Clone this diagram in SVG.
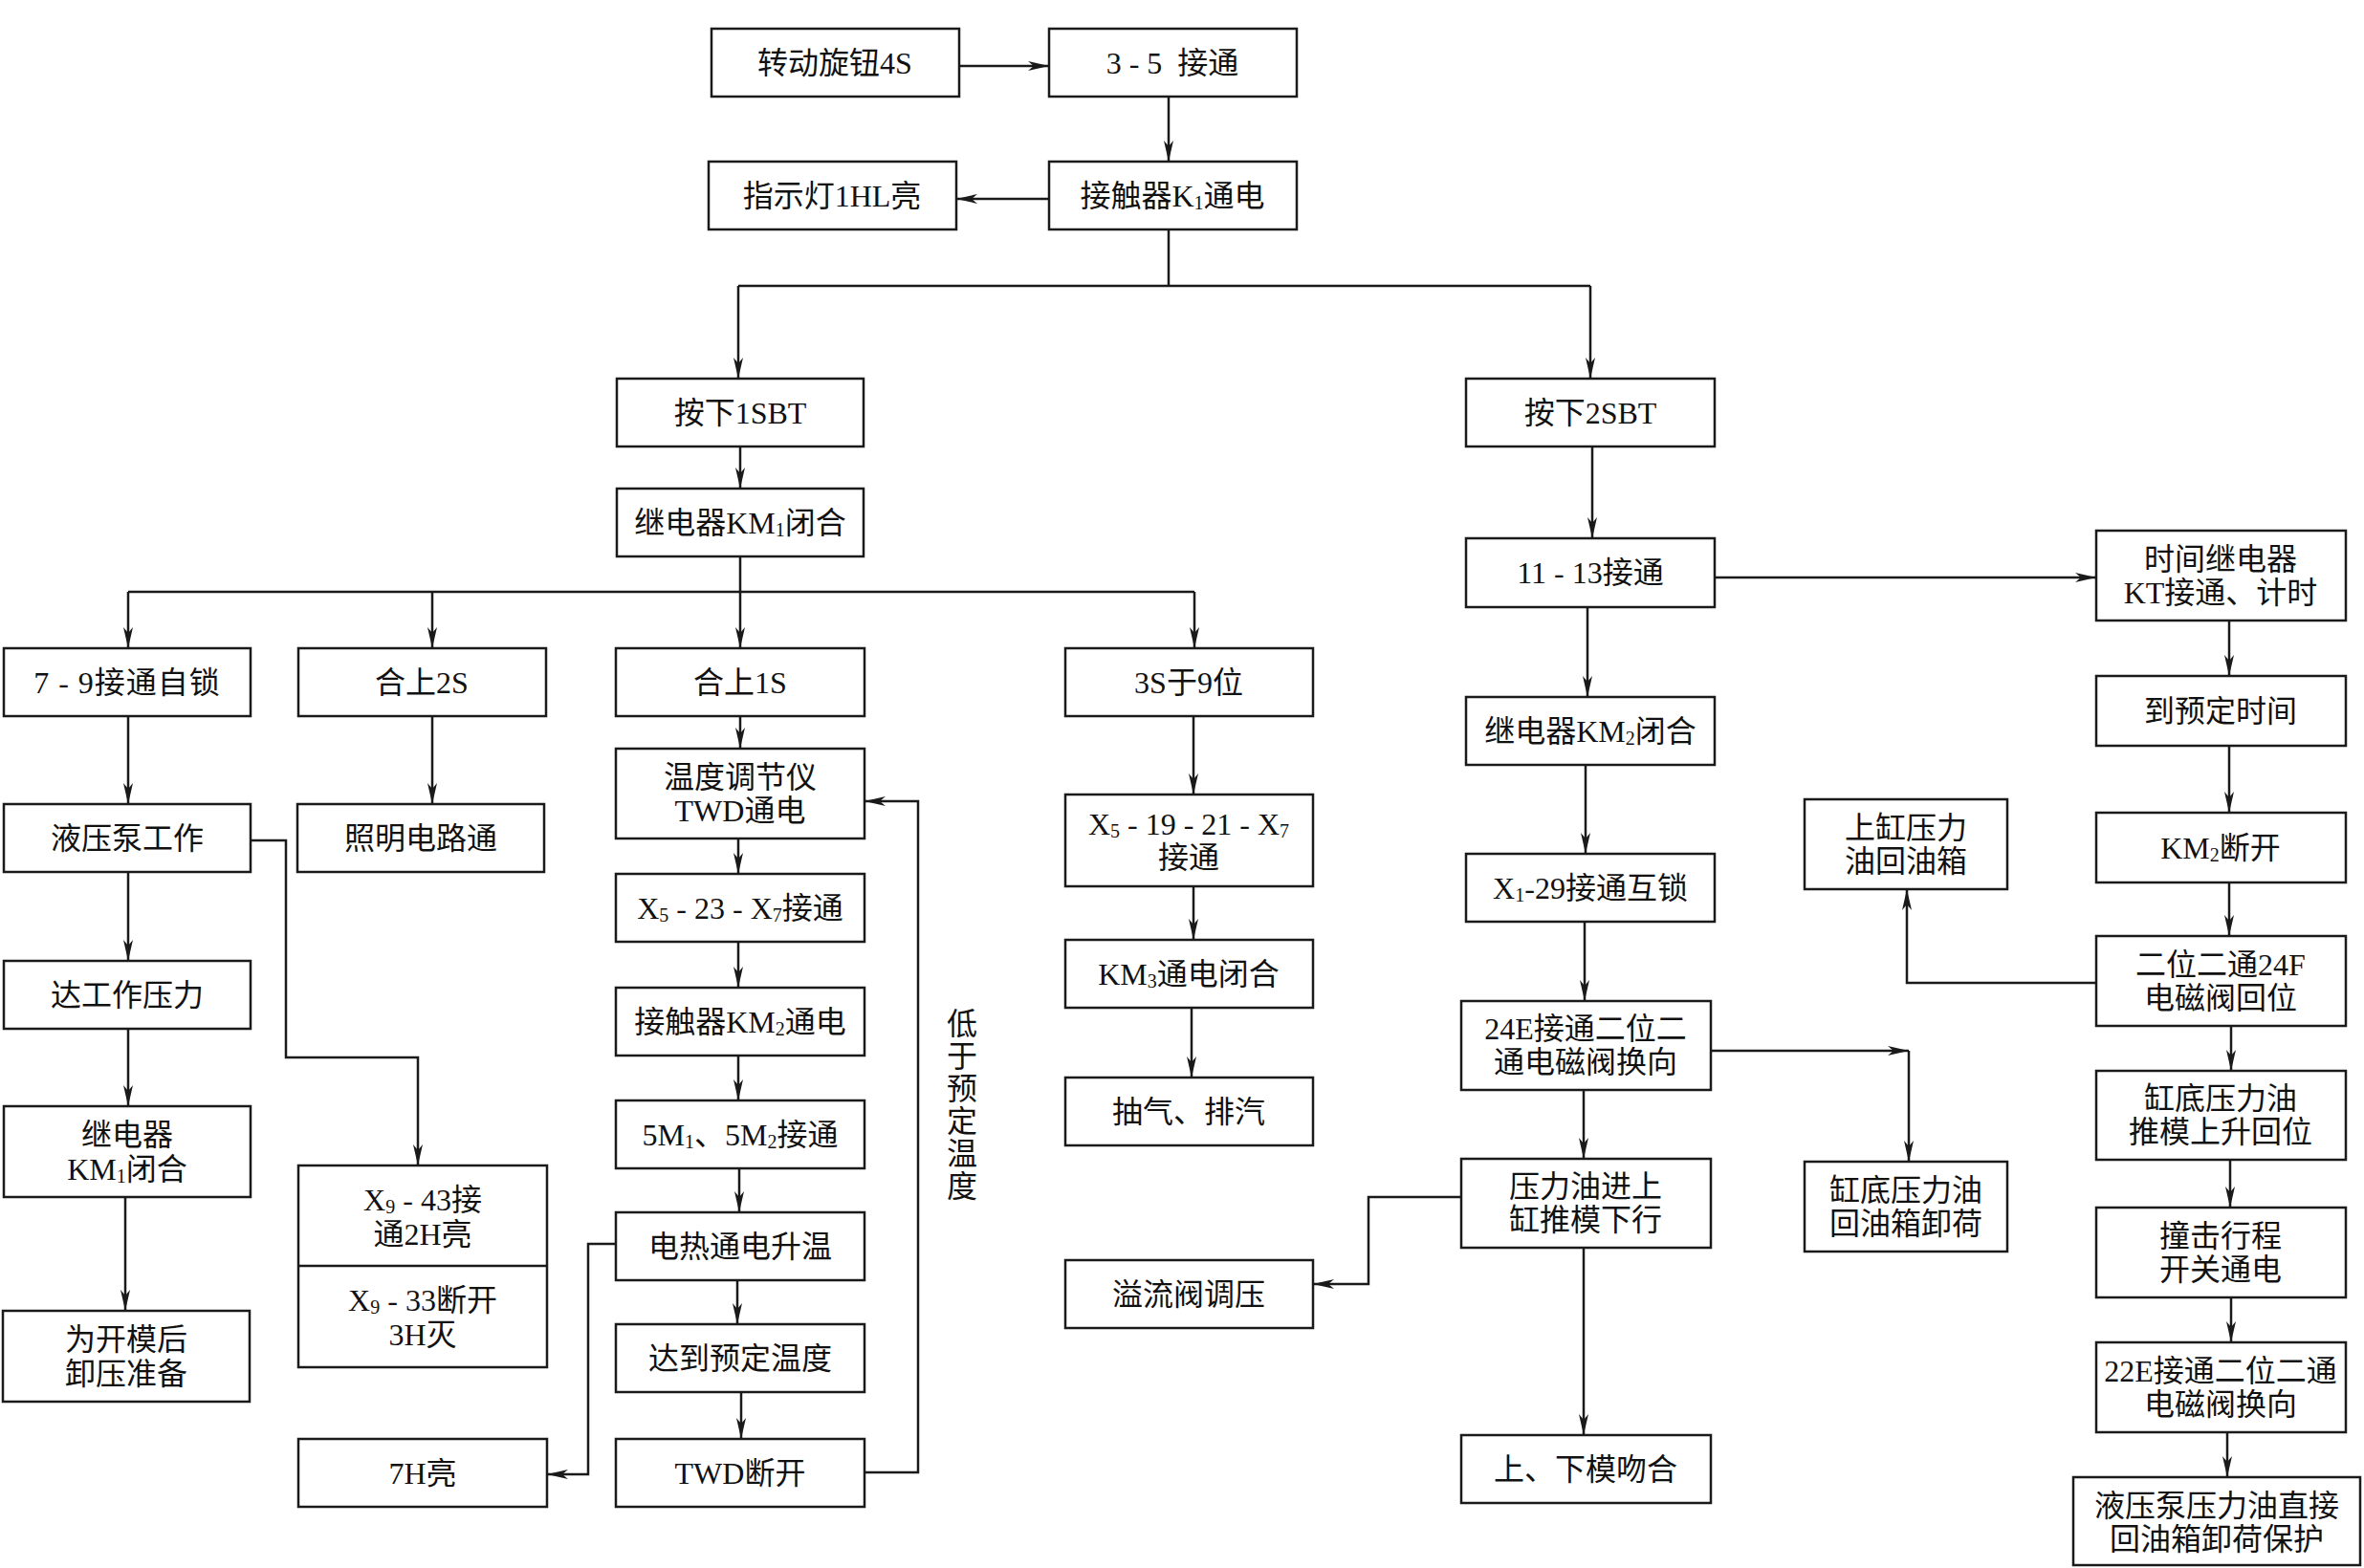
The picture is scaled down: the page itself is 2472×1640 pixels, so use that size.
<svg xmlns="http://www.w3.org/2000/svg" width="2472" height="1640" viewBox="0 0 2472 1640">
<style>
.b{fill:#fff;stroke:#1a1a1a;stroke-width:2.5}
.t{font-family:"Liberation Serif","Noto Sans CJK SC",serif;font-size:32px;text-anchor:middle;dominant-baseline:central;fill:#111}
.s{font-size:20px}
.c{fill:none;stroke:#1a1a1a;stroke-width:2.5}
.a{fill:none;stroke:#1a1a1a;stroke-width:2.5;marker-end:url(#ah)}
</style>
<defs>
<marker id="ah" markerUnits="userSpaceOnUse" markerWidth="22" markerHeight="10" viewBox="0 0 22 10" refX="22" refY="5" orient="auto">
<path d="M0,0 L22,5 L0,10 L6,5 Z" fill="#1a1a1a"/>
</marker>
</defs>
<rect width="2472" height="1640" fill="#fff"/>
<g id="connectors">
<path class="a" d="M1003,69 H1097"/>
<path class="a" d="M1222,101 V169"/>
<path class="a" d="M1097,208 H1000"/>
<path class="c" d="M1222,240 V299 M772,299 H1663"/>
<path class="a" d="M772,299 V396"/>
<path class="a" d="M1663,299 V396"/>
<path class="a" d="M774,467 V511"/>
<path class="c" d="M774,582 V619 M134,619 H1249"/>
<path class="a" d="M134,619 V678"/>
<path class="a" d="M452,619 V678"/>
<path class="a" d="M774,619 V678"/>
<path class="a" d="M1249,619 V678"/>
<path class="a" d="M134,749 V841"/>
<path class="a" d="M134,912 V1005"/>
<path class="a" d="M134,1076 V1157"/>
<path class="a" d="M131,1252 V1371"/>
<path class="a" d="M452,749 V841"/>
<path class="a" d="M262,879 H299 V1106 H437 V1219"/>
<path class="a" d="M774,749 V783"/>
<path class="a" d="M772,877 V914"/>
<path class="a" d="M772,985 V1033"/>
<path class="a" d="M772,1104 V1151"/>
<path class="a" d="M773,1222 V1268"/>
<path class="a" d="M771,1339 V1385"/>
<path class="a" d="M775,1456 V1505"/>
<path class="a" d="M644,1301 H615 V1542 H572"/>
<path class="a" d="M904,1540 H960 V838 H904"/>
<path class="a" d="M1248,749 V831"/>
<path class="a" d="M1248,927 V983"/>
<path class="a" d="M1246,1054 V1127"/>
<path class="a" d="M1528,1252 H1431 V1343 H1373"/>
<path class="a" d="M1665,467 V563"/>
<path class="a" d="M1660,635 V729"/>
<path class="a" d="M1658,800 V893"/>
<path class="a" d="M1657,964 V1047"/>
<path class="a" d="M1656,1140 V1212"/>
<path class="a" d="M1656,1305 V1501"/>
<path class="a" d="M1793,604 H2192"/>
<path class="a" d="M1789,1099 H1996"/>
<path class="a" d="M1996,1099 V1215"/>
<path class="a" d="M2192,1028 H1994 V930"/>
<path class="a" d="M2331,649 V707"/>
<path class="a" d="M2331,780 V850"/>
<path class="a" d="M2331,923 V979"/>
<path class="a" d="M2333,1073 V1120"/>
<path class="a" d="M2332,1213 V1263"/>
<path class="a" d="M2333,1357 V1404"/>
<path class="a" d="M2329,1498 V1545"/>
</g>
<g id="nA"><rect class="b" x="744" y="30" width="259" height="71"/><text class="t" x="873" y="66">转动旋钮4S</text></g>
<g id="nB"><rect class="b" x="1097" y="30" width="259" height="71"/><text class="t" x="1226" y="66">3 - 5&#160;&#160;接通</text></g>
<g id="nC"><rect class="b" x="1097" y="169" width="259" height="71"/><text class="t" x="1226" y="205">接触器K<tspan class="s" dy="7">1</tspan><tspan dy="-7">通电</tspan></text></g>
<g id="nD"><rect class="b" x="741" y="169" width="259" height="71"/><text class="t" x="870" y="205">指示灯1HL亮</text></g>
<g id="nE"><rect class="b" x="645" y="396" width="258" height="71"/><text class="t" x="774" y="432">按下1SBT</text></g>
<g id="nK"><rect class="b" x="1533" y="396" width="260" height="71"/><text class="t" x="1663" y="432">按下2SBT</text></g>
<g id="nF"><rect class="b" x="645" y="511" width="258" height="71"/><text class="t" x="774" y="547">继电器KM<tspan class="s" dy="7">1</tspan><tspan dy="-7">闭合</tspan></text></g>
<g id="nG"><rect class="b" x="4" y="678" width="258" height="71"/><text class="t" x="133" y="714" letter-spacing="1">7 - 9接通自锁</text></g>
<g id="nH"><rect class="b" x="312" y="678" width="259" height="71"/><text class="t" x="441" y="714">合上2S</text></g>
<g id="nI"><rect class="b" x="644" y="678" width="260" height="71"/><text class="t" x="774" y="714">合上1S</text></g>
<g id="nJ"><rect class="b" x="1114" y="678" width="259" height="71"/><text class="t" x="1243" y="714">3S于9位</text></g>
<g id="nG1"><rect class="b" x="4" y="841" width="258" height="71"/><text class="t" x="133" y="877">液压泵工作</text></g>
<g id="nH1"><rect class="b" x="311" y="841" width="258" height="71"/><text class="t" x="440" y="877">照明电路通</text></g>
<g id="nG2"><rect class="b" x="4" y="1005" width="258" height="71"/><text class="t" x="133" y="1041">达工作压力</text></g>
<g id="nG3"><rect class="b" x="4" y="1157" width="258" height="95"/><text class="t" x="133" y="1187">继电器</text><text class="t" x="133" y="1223">KM<tspan class="s" dy="7">1</tspan><tspan dy="-7">闭合</tspan></text></g>
<g id="nG4"><rect class="b" x="3" y="1371" width="258" height="95"/><text class="t" x="132" y="1401">为开模后</text><text class="t" x="132" y="1437">卸压准备</text></g>
<g id="nH2"><rect class="b" x="312" y="1219" width="260" height="211"/><line class="c" x1="312" y1="1324" x2="572" y2="1324"/><text class="t" x="442" y="1255">X<tspan class="s" dy="7">9</tspan><tspan dy="-7"> - 43接</tspan></text><text class="t" x="442" y="1291">通2H亮</text><text class="t" x="442" y="1360">X<tspan class="s" dy="7">9</tspan><tspan dy="-7"> - 33断开</tspan></text><text class="t" x="442" y="1396">3H灭</text></g>
<g id="nH3"><rect class="b" x="312" y="1505" width="260" height="71"/><text class="t" x="442" y="1541">7H亮</text></g>
<g id="nI1"><rect class="b" x="644" y="783" width="260" height="94"/><text class="t" x="774" y="813">温度调节仪</text><text class="t" x="774" y="848">TWD通电</text></g>
<g id="nI2"><rect class="b" x="644" y="914" width="260" height="71"/><text class="t" x="774" y="950">X<tspan class="s" dy="7">5</tspan><tspan dy="-7"> - 23 - X</tspan><tspan class="s" dy="7">7</tspan><tspan dy="-7">接通</tspan></text></g>
<g id="nI3"><rect class="b" x="644" y="1033" width="260" height="71"/><text class="t" x="774" y="1069">接触器KM<tspan class="s" dy="7">2</tspan><tspan dy="-7">通电</tspan></text></g>
<g id="nI4"><rect class="b" x="644" y="1151" width="260" height="71"/><text class="t" x="774" y="1187">5M<tspan class="s" dy="7">1</tspan><tspan dy="-7">、5M</tspan><tspan class="s" dy="7">2</tspan><tspan dy="-7">接通</tspan></text></g>
<g id="nI5"><rect class="b" x="644" y="1268" width="260" height="71"/><text class="t" x="774" y="1304">电热通电升温</text></g>
<g id="nI6"><rect class="b" x="644" y="1385" width="260" height="71"/><text class="t" x="774" y="1421">达到预定温度</text></g>
<g id="nI7"><rect class="b" x="644" y="1505" width="260" height="71"/><text class="t" x="774" y="1541">TWD断开</text></g>
<g id="lbl"><text class="t" x="1006" y="1071">低</text><text class="t" x="1006" y="1105">于</text><text class="t" x="1006" y="1139">预</text><text class="t" x="1006" y="1173">定</text><text class="t" x="1006" y="1207">温</text><text class="t" x="1006" y="1241">度</text></g>
<g id="nJ1"><rect class="b" x="1114" y="831" width="259" height="96"/><text class="t" x="1243" y="862">X<tspan class="s" dy="7">5</tspan><tspan dy="-7"> - 19 - 21 - X</tspan><tspan class="s" dy="7">7</tspan></text><text class="t" x="1243" y="897">接通</text></g>
<g id="nJ2"><rect class="b" x="1114" y="983" width="259" height="71"/><text class="t" x="1243" y="1019">KM<tspan class="s" dy="7">3</tspan><tspan dy="-7">通电闭合</tspan></text></g>
<g id="nJ3"><rect class="b" x="1114" y="1127" width="259" height="71"/><text class="t" x="1243" y="1163">抽气、排汽</text></g>
<g id="nJ4"><rect class="b" x="1114" y="1318" width="259" height="71"/><text class="t" x="1243" y="1354">溢流阀调压</text></g>
<g id="nK1"><rect class="b" x="1533" y="563" width="260" height="72"/><text class="t" x="1663" y="599">11 - 13接通</text></g>
<g id="nK2"><rect class="b" x="1533" y="729" width="260" height="71"/><text class="t" x="1663" y="765">继电器KM<tspan class="s" dy="7">2</tspan><tspan dy="-7">闭合</tspan></text></g>
<g id="nK3"><rect class="b" x="1533" y="893" width="260" height="71"/><text class="t" x="1663" y="929">X<tspan class="s" dy="7">1</tspan><tspan dy="-7">-29接通互锁</tspan></text></g>
<g id="nK4"><rect class="b" x="1528" y="1047" width="261" height="93"/><text class="t" x="1658" y="1076">24E接通二位二</text><text class="t" x="1658" y="1111">通电磁阀换向</text></g>
<g id="nK5"><rect class="b" x="1528" y="1212" width="261" height="93"/><text class="t" x="1658" y="1241">压力油进上</text><text class="t" x="1658" y="1276">缸推模下行</text></g>
<g id="nK6"><rect class="b" x="1528" y="1501" width="261" height="71"/><text class="t" x="1658" y="1537">上、下模吻合</text></g>
<g id="nL"><rect class="b" x="1887" y="836" width="212" height="94"/><text class="t" x="1993" y="866">上缸压力</text><text class="t" x="1993" y="901">油回油箱</text></g>
<g id="nM"><rect class="b" x="1887" y="1215" width="212" height="94"/><text class="t" x="1993" y="1245">缸底压力油</text><text class="t" x="1993" y="1280">回油箱卸荷</text></g>
<g id="nN1"><rect class="b" x="2192" y="555" width="261" height="94"/><text class="t" x="2322" y="585">时间继电器</text><text class="t" x="2322" y="620">KT接通、计时</text></g>
<g id="nN2"><rect class="b" x="2192" y="707" width="261" height="73"/><text class="t" x="2322" y="744">到预定时间</text></g>
<g id="nN3"><rect class="b" x="2192" y="850" width="261" height="73"/><text class="t" x="2322" y="887">KM<tspan class="s" dy="7">2</tspan><tspan dy="-7">断开</tspan></text></g>
<g id="nN4"><rect class="b" x="2192" y="979" width="261" height="94"/><text class="t" x="2322" y="1009">二位二通24F</text><text class="t" x="2322" y="1044">电磁阀回位</text></g>
<g id="nN5"><rect class="b" x="2192" y="1120" width="261" height="93"/><text class="t" x="2322" y="1149">缸底压力油</text><text class="t" x="2322" y="1184">推模上升回位</text></g>
<g id="nN6"><rect class="b" x="2192" y="1263" width="261" height="94"/><text class="t" x="2322" y="1293">撞击行程</text><text class="t" x="2322" y="1328">开关通电</text></g>
<g id="nN7"><rect class="b" x="2192" y="1404" width="261" height="94"/><text class="t" x="2322" y="1434">22E接通二位二通</text><text class="t" x="2322" y="1469">电磁阀换向</text></g>
<g id="nN8"><rect class="b" x="2168" y="1545" width="300" height="92"/><text class="t" x="2318" y="1575">液压泵压力油直接</text><text class="t" x="2318" y="1610">回油箱卸荷保护</text></g>
</svg>
